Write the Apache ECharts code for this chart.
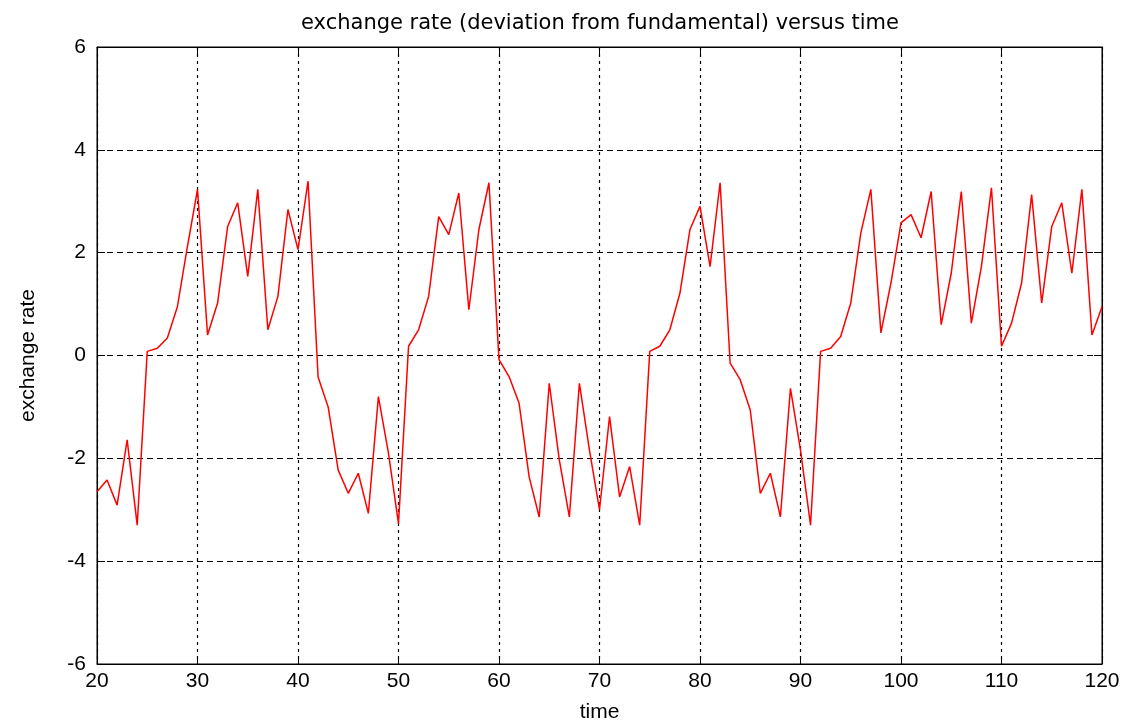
<!DOCTYPE html>
<html>
<head>
<meta charset="utf-8">
<script src="https://cdn.jsdelivr.net/npm/echarts@6/dist/echarts.min.js"></script>
<style>
  html, body { margin: 0; padding: 0; background: #fff; }
  #chart { width: 1129px; height: 728px; }
</style>
</head>
<body>
<div id="chart"></div>
<script>
// time steps 20..120
const timeSteps = [
  20, 21, 22, 23, 24, 25, 26, 27, 28, 29,
  30, 31, 32, 33, 34, 35, 36, 37, 38, 39,
  40, 41, 42, 43, 44, 45, 46, 47, 48, 49,
  50, 51, 52, 53, 54, 55, 56, 57, 58, 59,
  60, 61, 62, 63, 64, 65, 66, 67, 68, 69,
  70, 71, 72, 73, 74, 75, 76, 77, 78, 79,
  80, 81, 82, 83, 84, 85, 86, 87, 88, 89,
  90, 91, 92, 93, 94, 95, 96, 97, 98, 99,
  100, 101, 102, 103, 104, 105, 106, 107, 108, 109,
  110, 111, 112, 113, 114, 115, 116, 117, 118, 119,
  120
];

// exchange rate values
const rateValues = [
  -2.65, -2.42, -2.91, -1.64, -3.30, 0.08, 0.14, 0.34, 0.95, 2.12,
  3.23, 0.40, 1.02, 2.51, 2.97, 1.54, 3.23, 0.50, 1.15, 2.84,
  2.06, 3.39, -0.42, -1.00, -2.23, -2.68, -2.29, -3.07, -0.80, -1.90,
  -3.27, 0.18, 0.50, 1.15, 2.70, 2.35, 3.16, 0.89, 2.45, 3.36,
  -0.08, -0.41, -0.93, -2.36, -3.14, -0.54, -2.03, -3.14, -0.54, -1.84,
  -3.00, -1.19, -2.75, -2.16, -3.30, 0.08, 0.18, 0.50, 1.21, 2.45,
  2.90, 1.73, 3.36, -0.15, -0.47, -1.06, -2.68, -2.29, -3.14, -0.64,
  -1.84, -3.30, 0.08, 0.14, 0.37, 1.02, 2.38, 3.23, 0.44, 1.41,
  2.58, 2.74, 2.29, 3.19, 0.60, 1.60, 3.19, 0.63, 1.73, 3.26,
  0.18, 0.63, 1.41, 3.13, 1.02, 2.51, 2.97, 1.60, 3.23, 0.40,
  0.95
];

const chartTitle = "exchange rate (deviation from fundamental) versus time";
const xAxisName = "time";
const yAxisName = "exchange rate";

const labelFont = "'Liberation Sans', Arial, sans-serif";
const titleFont = "'DejaVu Sans', Verdana, sans-serif";

const chartDom = document.getElementById("chart");
const myChart = echarts.init(chartDom);

const seriesData = timeSteps.map((t, i) => [t, rateValues[i]]);

// MATLAB style: ticks inside on all four sides, dotted grid
const tickStyle = { show: true, inside: true, length: 8, lineStyle: { color: "#000" } };

const option = {
  animation: false,
  backgroundColor: "#fff",
  title: {
    text: chartTitle,
    left: 595,
    textAlign: "center",
    top: 8,
    textStyle: { fontFamily: titleFont, fontWeight: "normal", fontSize: 21, color: "#000" },
  },
  grid: {
    left: 97,
    right: 27,
    top: 47,
    bottom: 63,
    show: true,
    borderColor: "#000",
    borderWidth: 1,
  },
  xAxis: [
    {
      type: "value",
      min: 20,
      max: 120,
      interval: 10,
      name: xAxisName,
      nameLocation: "middle",
      nameGap: 38,
      nameTextStyle: { fontFamily: labelFont, fontSize: 21, color: "#000" },
      axisLine: { show: true, onZero: false, lineStyle: { color: "#000", width: 1 } },
      axisTick: tickStyle,
      axisLabel: { fontFamily: labelFont, fontSize: 21, color: "#000", margin: 7 },
      splitLine: { show: true, lineStyle: { color: "#000", type: [3, 4], width: 1.2 } },
    },
    {
      type: "value",
      position: "top",
      min: 20,
      max: 120,
      interval: 10,
      axisLine: { show: true, onZero: false, lineStyle: { color: "#000" } },
      axisTick: tickStyle,
      axisLabel: { show: false },
      splitLine: { show: false },
    },
  ],
  yAxis: [
    {
      type: "value",
      min: -6,
      max: 6,
      interval: 2,
      name: yAxisName,
      nameLocation: "middle",
      nameGap: 58,
      nameTextStyle: { fontFamily: labelFont, fontSize: 21, color: "#000" },
      axisLine: { show: true, onZero: false, lineStyle: { color: "#000", width: 1 } },
      axisTick: tickStyle,
      axisLabel: { fontFamily: labelFont, fontSize: 21, color: "#000", margin: 11 },
      splitLine: { show: true, lineStyle: { color: "#000", type: [6, 4], width: 1.2 } },
    },
    {
      type: "value",
      position: "right",
      min: -6,
      max: 6,
      interval: 2,
      axisLine: { show: true, onZero: false, lineStyle: { color: "#000" } },
      axisTick: tickStyle,
      axisLabel: { show: false },
      splitLine: { show: false },
    },
  ],
  series: [
    {
      type: "line",
      data: seriesData,
      showSymbol: false,
      lineStyle: { color: "#ff0000", width: 1.5 },
      z: 3,
    },
  ],
};

myChart.setOption(option);
</script>
</body>
</html>
